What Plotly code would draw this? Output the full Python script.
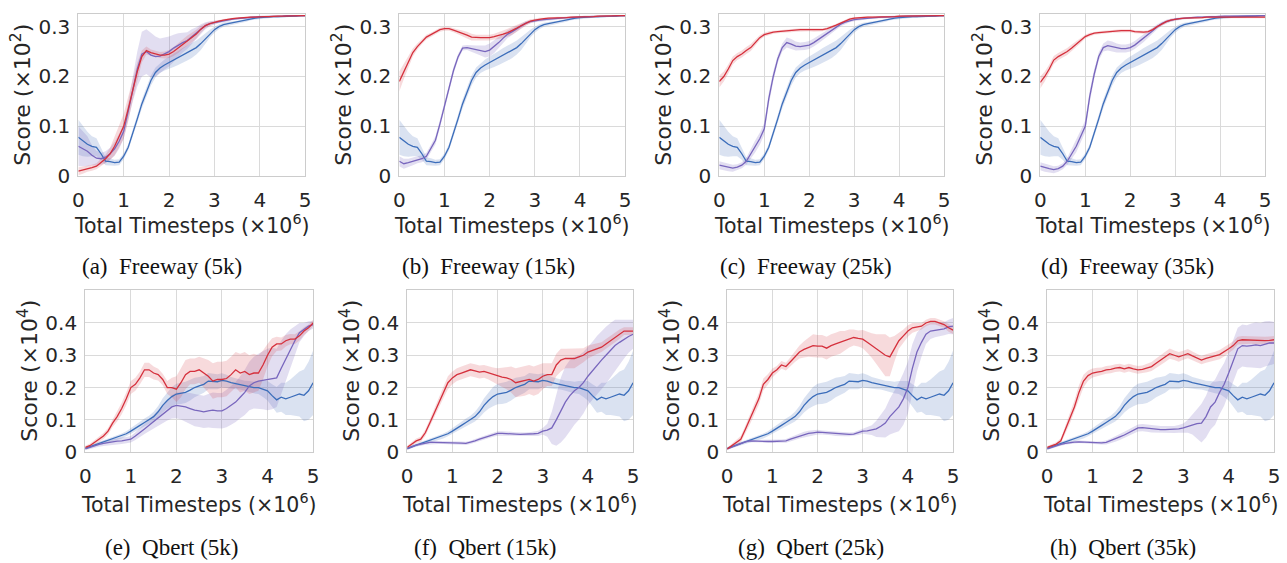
import plotly.graph_objects as go

# Training steps (x10^6), one sample every 0.1
STEPS = [round(i * 0.1, 1) for i in range(51)]

# ---------------- Freeway (score x10^2) ----------------
FW_BLUE = [0.078, 0.070, 0.064, 0.060, 0.058, 0.045, 0.030, 0.029, 0.027, 0.028,
           0.040, 0.058, 0.085, 0.115, 0.145, 0.170, 0.192, 0.208, 0.217, 0.223,
           0.228, 0.232, 0.237, 0.242, 0.247, 0.252, 0.258, 0.266, 0.276, 0.286,
           0.294, 0.300, 0.304, 0.306, 0.308, 0.309, 0.311, 0.313, 0.315, 0.317,
           0.318, 0.319, 0.319, 0.320, 0.320, 0.320, 0.321, 0.321, 0.321, 0.322, 0.322]
FW_BLUE_SD = [0.035, 0.030, 0.025, 0.020, 0.018, 0.012, 0.008, 0.007, 0.006, 0.006,
              0.006, 0.006, 0.007, 0.008, 0.009, 0.010, 0.010, 0.010, 0.010, 0.011,
              0.012, 0.013, 0.014, 0.015, 0.015, 0.015, 0.014, 0.013, 0.011, 0.008,
              0.006, 0.005, 0.004, 0.004, 0.003, 0.003, 0.003, 0.003, 0.002, 0.002,
              0.002, 0.002, 0.002, 0.002, 0.002, 0.002, 0.002, 0.001, 0.001, 0.001, 0.001]

FW5_RED = [0.010, 0.012, 0.015, 0.017, 0.020, 0.028, 0.035, 0.045, 0.060, 0.080,
           0.100, 0.135, 0.175, 0.210, 0.240, 0.252, 0.248, 0.245, 0.243, 0.243,
           0.245, 0.250, 0.257, 0.265, 0.272, 0.278, 0.285, 0.295, 0.302, 0.306,
           0.309, 0.311, 0.313, 0.315, 0.316, 0.317, 0.318, 0.318, 0.319, 0.319,
           0.320, 0.320, 0.320, 0.321, 0.321, 0.321, 0.321, 0.322, 0.322, 0.322, 0.322]
FW5_RED_SD = [0.008, 0.007, 0.006, 0.006, 0.006, 0.007, 0.008, 0.012, 0.018, 0.022,
              0.025, 0.025, 0.022, 0.018, 0.012, 0.008, 0.006, 0.006, 0.006, 0.007,
              0.008, 0.009, 0.010, 0.010, 0.010, 0.010, 0.009, 0.007, 0.005, 0.004,
              0.003, 0.003, 0.002, 0.002, 0.002, 0.002, 0.002, 0.002, 0.002, 0.002,
              0.002, 0.002, 0.002, 0.002, 0.002, 0.001, 0.001, 0.001, 0.001, 0.001, 0.001]
FW5_PURPLE = [0.060, 0.055, 0.050, 0.042, 0.036, 0.035, 0.038, 0.045, 0.055, 0.070,
              0.090, 0.130, 0.175, 0.215, 0.245, 0.250, 0.243, 0.240, 0.241, 0.246,
              0.250, 0.257, 0.263, 0.268, 0.272, 0.280, 0.287, 0.295, 0.302, 0.306,
              0.308, 0.310, 0.312, 0.313, 0.315, 0.316, 0.317, 0.318, 0.319, 0.319,
              0.320, 0.320, 0.320, 0.321, 0.321, 0.321, 0.322, 0.322, 0.322, 0.322, 0.322]
FW5_PURPLE_SD = [0.040, 0.035, 0.030, 0.020, 0.015, 0.012, 0.012, 0.012, 0.014, 0.015,
                 0.015, 0.018, 0.025, 0.035, 0.045, 0.045, 0.045, 0.040, 0.035, 0.032,
                 0.030, 0.027, 0.024, 0.020, 0.017, 0.015, 0.012, 0.010, 0.007, 0.005,
                 0.004, 0.003, 0.003, 0.003, 0.002, 0.002, 0.002, 0.002, 0.002, 0.002,
                 0.002, 0.002, 0.002, 0.002, 0.002, 0.001, 0.001, 0.001, 0.001, 0.001, 0.001]

FW15_RED = [0.190, 0.210, 0.230, 0.248, 0.260, 0.270, 0.279, 0.284, 0.289, 0.294,
            0.296, 0.296, 0.293, 0.290, 0.287, 0.283, 0.279, 0.278, 0.278, 0.278,
            0.278, 0.280, 0.282, 0.285, 0.288, 0.292, 0.297, 0.302, 0.307, 0.311,
            0.313, 0.315, 0.316, 0.317, 0.317, 0.318, 0.318, 0.318, 0.319, 0.319,
            0.319, 0.320, 0.320, 0.320, 0.321, 0.321, 0.321, 0.321, 0.322, 0.322, 0.322]
FW15_RED_SD = [0.020, 0.015, 0.012, 0.008, 0.006, 0.005, 0.005, 0.004, 0.004, 0.004,
               0.004, 0.004, 0.004, 0.005, 0.006, 0.007, 0.007, 0.006, 0.006, 0.006,
               0.006, 0.006, 0.007, 0.008, 0.008, 0.008, 0.007, 0.006, 0.005, 0.004,
               0.003, 0.003, 0.002, 0.002, 0.002, 0.002, 0.002, 0.002, 0.002, 0.002,
               0.002, 0.002, 0.002, 0.002, 0.002, 0.001, 0.001, 0.001, 0.001, 0.001, 0.001]
FW15_PURPLE = [0.030, 0.025, 0.027, 0.030, 0.033, 0.035, 0.040, 0.055, 0.072, 0.105,
               0.140, 0.176, 0.212, 0.239, 0.257, 0.258, 0.256, 0.254, 0.252, 0.250,
               0.253, 0.260, 0.268, 0.277, 0.285, 0.290, 0.296, 0.302, 0.307, 0.310,
               0.312, 0.313, 0.314, 0.315, 0.316, 0.316, 0.317, 0.318, 0.318, 0.319,
               0.319, 0.320, 0.320, 0.320, 0.321, 0.321, 0.321, 0.321, 0.322, 0.322, 0.322]
FW15_PURPLE_SD = [0.010, 0.010, 0.008, 0.008, 0.007, 0.007, 0.007, 0.008, 0.008, 0.008,
                  0.008, 0.008, 0.007, 0.006, 0.005, 0.005, 0.006, 0.008, 0.010, 0.012,
                  0.013, 0.013, 0.012, 0.010, 0.008, 0.007, 0.006, 0.005, 0.004, 0.003,
                  0.003, 0.003, 0.002, 0.002, 0.002, 0.002, 0.002, 0.002, 0.002, 0.002,
                  0.002, 0.002, 0.002, 0.002, 0.002, 0.001, 0.001, 0.001, 0.001, 0.001, 0.001]

FW25_RED = [0.190, 0.200, 0.215, 0.232, 0.240, 0.245, 0.252, 0.258, 0.268, 0.278,
            0.284, 0.287, 0.289, 0.290, 0.291, 0.292, 0.292, 0.293, 0.294, 0.294,
            0.294, 0.293, 0.293, 0.294, 0.296, 0.299, 0.303, 0.307, 0.311, 0.315,
            0.317, 0.318, 0.318, 0.319, 0.319, 0.319, 0.320, 0.320, 0.320, 0.320,
            0.321, 0.321, 0.321, 0.321, 0.321, 0.322, 0.322, 0.322, 0.322, 0.322, 0.322]
FW25_RED_SD = [0.012, 0.010, 0.009, 0.008, 0.007, 0.007, 0.007, 0.007, 0.006, 0.005,
               0.004, 0.004, 0.003, 0.003, 0.003, 0.003, 0.003, 0.003, 0.003, 0.003,
               0.003, 0.003, 0.003, 0.003, 0.003, 0.003, 0.003, 0.003, 0.003, 0.003,
               0.002, 0.002, 0.002, 0.002, 0.002, 0.002, 0.002, 0.002, 0.002, 0.002,
               0.002, 0.002, 0.002, 0.002, 0.002, 0.001, 0.001, 0.001, 0.001, 0.001, 0.001]
FW25_PURPLE = [0.022, 0.020, 0.018, 0.016, 0.018, 0.022, 0.030, 0.045, 0.060, 0.075,
               0.095, 0.155, 0.200, 0.235, 0.258, 0.268, 0.265, 0.261, 0.260, 0.261,
               0.263, 0.268, 0.274, 0.280, 0.287, 0.293, 0.299, 0.305, 0.309, 0.312,
               0.314, 0.315, 0.316, 0.317, 0.318, 0.318, 0.319, 0.319, 0.320, 0.320,
               0.320, 0.321, 0.321, 0.321, 0.321, 0.322, 0.322, 0.322, 0.322, 0.322, 0.322]
FW25_PURPLE_SD = [0.008, 0.008, 0.008, 0.007, 0.006, 0.006, 0.007, 0.010, 0.012, 0.012,
                  0.012, 0.012, 0.010, 0.008, 0.008, 0.010, 0.010, 0.009, 0.008, 0.008,
                  0.008, 0.008, 0.008, 0.008, 0.007, 0.006, 0.005, 0.004, 0.004, 0.003,
                  0.003, 0.003, 0.002, 0.002, 0.002, 0.002, 0.002, 0.002, 0.002, 0.002,
                  0.002, 0.002, 0.002, 0.002, 0.002, 0.001, 0.001, 0.001, 0.001, 0.001, 0.001]

FW35_RED = [0.188, 0.200, 0.215, 0.233, 0.240, 0.245, 0.250, 0.257, 0.265, 0.272,
            0.280, 0.284, 0.287, 0.288, 0.289, 0.290, 0.291, 0.291, 0.292, 0.292,
            0.292, 0.290, 0.289, 0.289, 0.290, 0.294, 0.300, 0.305, 0.310, 0.313,
            0.315, 0.316, 0.317, 0.317, 0.318, 0.318, 0.318, 0.319, 0.319, 0.319,
            0.320, 0.320, 0.320, 0.320, 0.320, 0.320, 0.320, 0.320, 0.320, 0.319, 0.319]
FW35_RED_SD = [0.012, 0.010, 0.009, 0.008, 0.007, 0.007, 0.007, 0.007, 0.006, 0.005,
               0.004, 0.004, 0.003, 0.003, 0.003, 0.003, 0.003, 0.003, 0.003, 0.003,
               0.003, 0.003, 0.003, 0.003, 0.003, 0.003, 0.003, 0.003, 0.003, 0.003,
               0.002, 0.002, 0.002, 0.002, 0.002, 0.002, 0.002, 0.002, 0.002, 0.002,
               0.002, 0.002, 0.002, 0.002, 0.002, 0.002, 0.002, 0.002, 0.002, 0.002, 0.002]
FW35_PURPLE = [0.020, 0.017, 0.015, 0.013, 0.015, 0.020, 0.030, 0.045, 0.060, 0.080,
               0.100, 0.160, 0.205, 0.240, 0.258, 0.262, 0.260, 0.257, 0.256, 0.256,
               0.258, 0.263, 0.270, 0.277, 0.285, 0.292, 0.300, 0.306, 0.310, 0.313,
               0.315, 0.316, 0.317, 0.318, 0.318, 0.319, 0.319, 0.320, 0.320, 0.320,
               0.321, 0.321, 0.321, 0.321, 0.322, 0.322, 0.322, 0.322, 0.322, 0.322, 0.322]
FW35_PURPLE_SD = [0.008, 0.008, 0.008, 0.007, 0.006, 0.006, 0.007, 0.010, 0.012, 0.012,
                  0.012, 0.012, 0.010, 0.008, 0.008, 0.010, 0.010, 0.009, 0.008, 0.008,
                  0.008, 0.008, 0.008, 0.008, 0.007, 0.006, 0.005, 0.004, 0.004, 0.003,
                  0.003, 0.003, 0.002, 0.002, 0.002, 0.002, 0.002, 0.002, 0.002, 0.002,
                  0.002, 0.002, 0.002, 0.002, 0.002, 0.001, 0.001, 0.001, 0.001, 0.001, 0.001]

# ---------------- Qbert (score x10^4) ----------------
QB_BLUE = [0.012, 0.017, 0.022, 0.027, 0.031, 0.035, 0.040, 0.045, 0.050, 0.057,
           0.065, 0.073, 0.083, 0.092, 0.100, 0.110, 0.125, 0.145, 0.160, 0.172,
           0.180, 0.182, 0.185, 0.192, 0.200, 0.205, 0.210, 0.220, 0.220, 0.218,
           0.222, 0.220, 0.215, 0.212, 0.210, 0.205, 0.203, 0.200, 0.200, 0.195,
           0.190, 0.175, 0.162, 0.170, 0.165, 0.170, 0.175, 0.180, 0.176, 0.190, 0.215]
QB_BLUE_SD = [0.004, 0.004, 0.005, 0.005, 0.006, 0.006, 0.007, 0.007, 0.008, 0.008,
              0.009, 0.010, 0.011, 0.012, 0.013, 0.015, 0.018, 0.022, 0.026, 0.030,
              0.032, 0.033, 0.033, 0.032, 0.030, 0.028, 0.026, 0.025, 0.024, 0.023,
              0.022, 0.020, 0.018, 0.017, 0.016, 0.016, 0.017, 0.018, 0.020, 0.024,
              0.030, 0.035, 0.040, 0.045, 0.050, 0.055, 0.062, 0.070, 0.080, 0.090, 0.100]

QB5_RED = [0.015, 0.020, 0.030, 0.040, 0.050, 0.065, 0.090, 0.110, 0.135, 0.165,
           0.200, 0.210, 0.230, 0.255, 0.255, 0.245, 0.240, 0.225, 0.200, 0.200,
           0.195, 0.215, 0.240, 0.250, 0.250, 0.255, 0.245, 0.235, 0.220, 0.225,
           0.225, 0.228, 0.240, 0.255, 0.245, 0.250, 0.240, 0.245, 0.245, 0.270,
           0.300, 0.325, 0.335, 0.335, 0.345, 0.350, 0.350, 0.360, 0.375, 0.385, 0.400]
QB5_RED_SD = [0.005, 0.006, 0.007, 0.008, 0.009, 0.010, 0.012, 0.015, 0.018, 0.020,
              0.020, 0.020, 0.020, 0.022, 0.022, 0.020, 0.018, 0.018, 0.020, 0.030,
              0.040, 0.045, 0.045, 0.040, 0.040, 0.040, 0.045, 0.050, 0.055, 0.055,
              0.055, 0.055, 0.055, 0.055, 0.060, 0.060, 0.060, 0.060, 0.055, 0.045,
              0.035, 0.028, 0.022, 0.020, 0.018, 0.016, 0.015, 0.014, 0.012, 0.010, 0.010]
QB5_PURPLE = [0.010, 0.015, 0.020, 0.024, 0.027, 0.030, 0.032, 0.034, 0.035, 0.037,
              0.040, 0.050, 0.060, 0.072, 0.083, 0.095, 0.107, 0.118, 0.130, 0.140,
              0.145, 0.143, 0.140, 0.135, 0.130, 0.128, 0.125, 0.128, 0.130, 0.128,
              0.128, 0.135, 0.145, 0.155, 0.170, 0.185, 0.205, 0.215, 0.220, 0.223,
              0.225, 0.228, 0.230, 0.260, 0.290, 0.320, 0.345, 0.370, 0.380, 0.390, 0.395]
QB5_PURPLE_SD = [0.004, 0.005, 0.006, 0.007, 0.008, 0.008, 0.009, 0.010, 0.010, 0.010,
                 0.010, 0.012, 0.014, 0.016, 0.018, 0.020, 0.024, 0.028, 0.032, 0.036,
                 0.040, 0.042, 0.045, 0.048, 0.050, 0.050, 0.050, 0.052, 0.055, 0.055,
                 0.055, 0.058, 0.060, 0.062, 0.065, 0.070, 0.075, 0.080, 0.085, 0.090,
                 0.095, 0.095, 0.090, 0.085, 0.075, 0.060, 0.045, 0.030, 0.020, 0.015, 0.012]

QB15_RED = [0.015, 0.025, 0.035, 0.040, 0.060, 0.090, 0.120, 0.155, 0.185, 0.215,
            0.230, 0.240, 0.245, 0.250, 0.255, 0.252, 0.248, 0.250, 0.245, 0.240,
            0.235, 0.232, 0.230, 0.225, 0.215, 0.218, 0.220, 0.225, 0.220, 0.225,
            0.235, 0.240, 0.240, 0.270, 0.285, 0.290, 0.290, 0.290, 0.295, 0.300,
            0.310, 0.315, 0.320, 0.325, 0.335, 0.345, 0.355, 0.365, 0.375, 0.375, 0.375]
QB15_RED_SD = [0.005, 0.006, 0.007, 0.008, 0.010, 0.012, 0.014, 0.016, 0.018, 0.020,
               0.020, 0.020, 0.020, 0.020, 0.020, 0.020, 0.020, 0.020, 0.020, 0.022,
               0.025, 0.030, 0.035, 0.040, 0.045, 0.045, 0.045, 0.045, 0.045, 0.045,
               0.040, 0.035, 0.035, 0.035, 0.035, 0.030, 0.030, 0.030, 0.025, 0.022,
               0.020, 0.018, 0.016, 0.015, 0.015, 0.015, 0.015, 0.015, 0.012, 0.012, 0.012]
QB15_PURPLE = [0.010, 0.017, 0.022, 0.025, 0.028, 0.030, 0.030, 0.030, 0.030, 0.030,
               0.030, 0.029, 0.028, 0.027, 0.030, 0.035, 0.040, 0.045, 0.050, 0.055,
               0.058, 0.058, 0.058, 0.057, 0.056, 0.055, 0.055, 0.056, 0.057, 0.058,
               0.065, 0.068, 0.075, 0.100, 0.130, 0.155, 0.175, 0.190, 0.200, 0.215,
               0.235, 0.252, 0.270, 0.285, 0.300, 0.315, 0.330, 0.340, 0.350, 0.358, 0.365]
QB15_PURPLE_SD = [0.003, 0.004, 0.004, 0.005, 0.005, 0.005, 0.005, 0.005, 0.005, 0.005,
                  0.005, 0.005, 0.005, 0.005, 0.005, 0.006, 0.006, 0.007, 0.007, 0.007,
                  0.007, 0.007, 0.007, 0.006, 0.006, 0.006, 0.006, 0.006, 0.007, 0.008,
                  0.010, 0.020, 0.050, 0.080, 0.100, 0.110, 0.110, 0.105, 0.100, 0.095,
                  0.090, 0.090, 0.090, 0.090, 0.088, 0.085, 0.080, 0.070, 0.060, 0.050, 0.045]

QB25_RED = [0.010, 0.020, 0.030, 0.040, 0.070, 0.100, 0.130, 0.165, 0.210, 0.225,
            0.245, 0.255, 0.270, 0.265, 0.280, 0.295, 0.310, 0.318, 0.325, 0.330,
            0.328, 0.328, 0.322, 0.330, 0.335, 0.340, 0.345, 0.352, 0.355, 0.352,
            0.350, 0.340, 0.330, 0.320, 0.310, 0.300, 0.295, 0.320, 0.345, 0.360,
            0.375, 0.385, 0.388, 0.390, 0.400, 0.405, 0.405, 0.400, 0.395, 0.385, 0.378]
QB25_RED_SD = [0.004, 0.006, 0.008, 0.010, 0.012, 0.014, 0.016, 0.018, 0.018, 0.016,
               0.014, 0.012, 0.012, 0.012, 0.014, 0.016, 0.020, 0.025, 0.030, 0.035,
               0.035, 0.035, 0.035, 0.035, 0.035, 0.035, 0.030, 0.028, 0.025, 0.025,
               0.028, 0.032, 0.038, 0.045, 0.055, 0.065, 0.060, 0.040, 0.025, 0.020,
               0.018, 0.015, 0.012, 0.010, 0.010, 0.010, 0.010, 0.010, 0.010, 0.012, 0.012]
QB25_PURPLE = [0.010, 0.016, 0.022, 0.027, 0.032, 0.035, 0.034, 0.034, 0.033, 0.033,
               0.033, 0.033, 0.034, 0.035, 0.040, 0.045, 0.050, 0.055, 0.058, 0.060,
               0.062, 0.061, 0.060, 0.058, 0.056, 0.055, 0.055, 0.055, 0.056, 0.060,
               0.065, 0.066, 0.068, 0.072, 0.080, 0.090, 0.110, 0.125, 0.140, 0.165,
               0.200, 0.260, 0.310, 0.340, 0.365, 0.375, 0.378, 0.380, 0.382, 0.388, 0.390]
QB25_PURPLE_SD = [0.003, 0.004, 0.004, 0.004, 0.004, 0.004, 0.004, 0.004, 0.004, 0.004,
                  0.004, 0.004, 0.005, 0.006, 0.007, 0.007, 0.008, 0.008, 0.008, 0.008,
                  0.007, 0.006, 0.006, 0.006, 0.006, 0.006, 0.006, 0.006, 0.006, 0.007,
                  0.008, 0.010, 0.015, 0.025, 0.035, 0.045, 0.055, 0.065, 0.075, 0.080,
                  0.080, 0.075, 0.060, 0.045, 0.030, 0.025, 0.022, 0.020, 0.020, 0.022, 0.025]

QB35_RED = [0.015, 0.020, 0.025, 0.035, 0.070, 0.105, 0.140, 0.185, 0.220, 0.237,
            0.245, 0.248, 0.250, 0.255, 0.256, 0.260, 0.262, 0.258, 0.262, 0.258,
            0.255, 0.256, 0.260, 0.265, 0.275, 0.285, 0.295, 0.305, 0.300, 0.295,
            0.300, 0.305, 0.298, 0.292, 0.285, 0.290, 0.293, 0.298, 0.302, 0.310,
            0.320, 0.330, 0.345, 0.348, 0.347, 0.348, 0.345, 0.346, 0.345, 0.346, 0.348]
QB35_RED_SD = [0.004, 0.005, 0.006, 0.008, 0.012, 0.016, 0.020, 0.022, 0.020, 0.016,
               0.014, 0.013, 0.012, 0.012, 0.012, 0.012, 0.012, 0.012, 0.012, 0.012,
               0.012, 0.012, 0.013, 0.014, 0.015, 0.016, 0.016, 0.016, 0.015, 0.015,
               0.014, 0.014, 0.014, 0.013, 0.013, 0.013, 0.013, 0.013, 0.014, 0.014,
               0.014, 0.013, 0.012, 0.012, 0.012, 0.012, 0.012, 0.012, 0.012, 0.012, 0.012]
QB35_PURPLE = [0.010, 0.015, 0.020, 0.024, 0.027, 0.030, 0.031, 0.032, 0.031, 0.030,
               0.030, 0.029, 0.029, 0.030, 0.035, 0.040, 0.047, 0.053, 0.060, 0.068,
               0.075, 0.076, 0.074, 0.072, 0.071, 0.070, 0.070, 0.070, 0.070, 0.072,
               0.075, 0.080, 0.085, 0.088, 0.090, 0.110, 0.140, 0.155, 0.185, 0.210,
               0.245, 0.285, 0.320, 0.330, 0.328, 0.330, 0.332, 0.330, 0.335, 0.338, 0.338]
QB35_PURPLE_SD = [0.003, 0.004, 0.004, 0.004, 0.004, 0.004, 0.004, 0.004, 0.004, 0.004,
                  0.004, 0.004, 0.005, 0.006, 0.007, 0.008, 0.009, 0.010, 0.010, 0.011,
                  0.011, 0.011, 0.011, 0.011, 0.011, 0.011, 0.011, 0.011, 0.011, 0.012,
                  0.014, 0.020, 0.030, 0.045, 0.060, 0.065, 0.070, 0.070, 0.068, 0.066,
                  0.065, 0.065, 0.065, 0.065, 0.065, 0.068, 0.070, 0.070, 0.070, 0.068, 0.065]

CAPTIONS = ["(a)\u2002Freeway (5k)", "(b)\u2002Freeway (15k)", "(c)\u2002Freeway (25k)",
            "(d)\u2002Freeway (35k)", "(e)\u2002Qbert (5k)", "(f)\u2002Qbert (15k)",
            "(g)\u2002Qbert (25k)", "(h)\u2002Qbert (35k)"]
X_TICKS = [0, 1, 2, 3, 4, 5]
FW_TICKS = [0, 0.1, 0.2, 0.3]
QB_TICKS = [0, 0.1, 0.2, 0.3, 0.4]

PANELS = [
    (FW_BLUE, FW_BLUE_SD, FW5_PURPLE, FW5_PURPLE_SD, FW5_RED, FW5_RED_SD),
    (FW_BLUE, FW_BLUE_SD, FW15_PURPLE, FW15_PURPLE_SD, FW15_RED, FW15_RED_SD),
    (FW_BLUE, FW_BLUE_SD, FW25_PURPLE, FW25_PURPLE_SD, FW25_RED, FW25_RED_SD),
    (FW_BLUE, FW_BLUE_SD, FW35_PURPLE, FW35_PURPLE_SD, FW35_RED, FW35_RED_SD),
    (QB_BLUE, QB_BLUE_SD, QB5_PURPLE, QB5_PURPLE_SD, QB5_RED, QB5_RED_SD),
    (QB_BLUE, QB_BLUE_SD, QB15_PURPLE, QB15_PURPLE_SD, QB15_RED, QB15_RED_SD),
    (QB_BLUE, QB_BLUE_SD, QB25_PURPLE, QB25_PURPLE_SD, QB25_RED, QB25_RED_SD),
    (QB_BLUE, QB_BLUE_SD, QB35_PURPLE, QB35_PURPLE_SD, QB35_RED, QB35_RED_SD),
]

# ---------------- styling ----------------
W, H = 1287, 563
BLUE, PURPLE, RED = "#3b6dba", "#7866bd", "#d5303c"
BLUE_FILL = "rgba(70,110,185,0.20)"
PURPLE_FILL = "rgba(125,105,190,0.22)"
RED_FILL = "rgba(215,60,70,0.19)"
GRID = "#dadada"
TXT = "#262626"
SANS = "DejaVu Sans"
SERIF = "Liberation Serif"

# panel boxes in pixels: (left, right) per column, (top, bottom) per row
COL_PX_TOP = [(73, 302), (397, 625), (720, 947), (1044, 1271)]
COL_PX_BOT = [(80, 310), (405, 633), (728, 956), (1051, 1280)]
ROW_PX = [(14, 180), (296, 462)]
XTITLE_OFF = [49, 52]
CAP_X = [157, 487, 808, 1132, 167, 484, 813, 1128]
CAP_Y = [272, 559]


def px_x(p):
    return p / W


def px_y(p):
    return 1 - p / H


fig = go.Figure()
layout = dict(width=W, height=H, margin=dict(l=0, r=0, t=0, b=0),
              plot_bgcolor="white", paper_bgcolor="white", showlegend=False)
annotations = []

for k, (b, bsd, p, psd, r, rsd) in enumerate(PANELS):
    row, col = divmod(k, 4)
    left, right = (COL_PX_TOP if row == 0 else COL_PX_BOT)[col]
    top, bottom = ROW_PX[row]
    idx = "" if k == 0 else str(k + 1)
    xa, ya = "x" + idx, "y" + idx

    # shaded spread bands first, then the mean curves on top
    for mean, sd, fill in ((b, bsd, BLUE_FILL), (p, psd, PURPLE_FILL), (r, rsd, RED_FILL)):
        upper = [m + s for m, s in zip(mean, sd)]
        lower = [m - s for m, s in zip(mean, sd)]
        fig.add_trace(go.Scatter(x=STEPS + STEPS[::-1], y=upper + lower[::-1],
                                 fill="toself", fillcolor=fill, mode="lines",
                                 line=dict(width=0), hoverinfo="skip",
                                 xaxis=xa, yaxis=ya))
    for mean, color in ((b, BLUE), (p, PURPLE), (r, RED)):
        fig.add_trace(go.Scatter(x=STEPS, y=mean, mode="lines",
                                 line=dict(color=color, width=1.3),
                                 xaxis=xa, yaxis=ya))

    common = dict(showgrid=True, gridcolor=GRID, gridwidth=1.2, zeroline=False,
                  showline=True, mirror=True, linecolor="#cccccc", linewidth=1.2,
                  ticks="", tickfont=dict(family=SANS, size=20, color=TXT))
    layout["xaxis" + idx] = dict(common, domain=[px_x(left), px_x(right)],
                                 anchor=ya, range=[0, 5], tickvals=X_TICKS,
                                 ticktext=[str(t) for t in X_TICKS],
                                 ticklabelstandoff=6)
    yt = FW_TICKS if row == 0 else QB_TICKS
    layout["yaxis" + idx] = dict(common, domain=[px_y(bottom), px_y(top)],
                                 anchor=xa, range=[0, 0.326 if row == 0 else 0.503],
                                 tickvals=yt,
                                 ticktext=["0"] + ["%.1f" % t for t in yt[1:]],
                                 ticklabelstandoff=3)

    # axis titles
    annotations.append(dict(text="Total Timesteps (\u00d710<sup>6</sup>)",
                            xref="paper", yref="paper",
                            x=px_x((left + right) / 2), y=px_y(bottom + XTITLE_OFF[row]),
                            xanchor="center", yanchor="middle", showarrow=False,
                            font=dict(family=SANS, size=20.5, color=TXT)))
    annotations.append(dict(text="Score (\u00d710<sup>%d</sup>)" % (2 if row == 0 else 4),
                            xref="paper", yref="paper", textangle=-90,
                            x=px_x(left - 58), y=px_y((top + bottom) / 2),
                            xanchor="center", yanchor="middle", showarrow=False,
                            font=dict(family=SANS, size=22, color=TXT)))
    # sub-figure caption
    annotations.append(dict(text=CAPTIONS[k], xref="paper", yref="paper",
                            x=px_x(CAP_X[k]), y=px_y(CAP_Y[row]),
                            xanchor="center", yanchor="middle", showarrow=False,
                            font=dict(family=SERIF, size=23, color="#111111")))

layout["annotations"] = annotations
fig.update_layout(**layout)
fig.write_html("out.html")
